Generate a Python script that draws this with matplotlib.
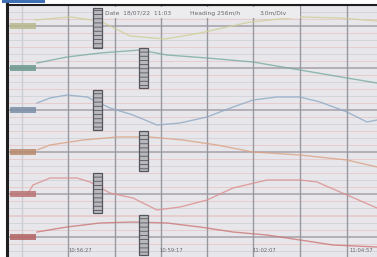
import matplotlib
matplotlib.use("Agg")
import matplotlib.pyplot as plt
from matplotlib.patches import Rectangle

plt.rcParams["hatch.color"] = "#6c6c74"
plt.rcParams["hatch.linewidth"] = 0.6

# posiciones de la rejilla (eje horizontal = tiempo, en px de pantalla)
grid_x = [22, 68, 115, 161, 207, 253, 300, 347]
baselines = [26, 68, 110, 152, 194, 237]
canal_colores = ["#cfcf98", "#79aba2", "#8eaac4", "#dba283", "#dc8f8f", "#cc7676"]
caja_colores = ["#b9b98e", "#6e9a90", "#7b8ea6", "#b88a6c", "#bb7474", "#b46464"]

# trazas
x_amarillo = [35, 70, 100, 130, 165, 200, 250, 300, 340, 377]
y_amarillo = [20, 17, 21, 36, 39, 33, 22, 17, 18, 21]

x_verde = [37, 67, 100, 140, 167, 207, 253, 300, 347, 377]
y_verde = [63, 57, 53, 50, 55, 58, 62, 70, 78, 83]

x_azul = [37, 50, 67, 87, 110, 133, 157, 180, 207, 233, 253, 277, 300, 320, 347, 367, 377]
y_azul = [103, 98, 95, 97, 108, 115, 125, 123, 117, 107, 100, 97, 97, 102, 112, 122, 120]

x_naranja = [37, 50, 83, 117, 150, 183, 217, 253, 300, 347, 377]
y_naranja = [150, 145, 140, 137, 137, 140, 145, 152, 155, 160, 167]

x_rojo = [27, 33, 50, 77, 90, 110, 133, 157, 180, 207, 233, 267, 300, 317, 347, 377]
y_rojo = [195, 185, 178, 178, 182, 193, 198, 210, 207, 200, 188, 180, 180, 182, 195, 208]

x_granate = [37, 67, 100, 133, 167, 200, 233, 267, 300, 333, 377]
y_granate = [232, 227, 223, 222, 223, 227, 232, 235, 240, 245, 247]

trazas = [(x_amarillo, y_amarillo), (x_verde, y_verde), (x_azul, y_azul),
          (x_naranja, y_naranja), (x_rojo, y_rojo), (x_granate, y_granate)]

# marcadores de evento (x izquierda, y arriba)
marcas_x = [93, 139, 93, 139, 93, 139]
marcas_y = [8, 48, 90, 131, 173, 215]

tick_pos = [80, 171, 264, 361]
tick_lab = ["10:56:27", "10:59:17", "11:02:07", "11:04:57"]

fig = plt.figure(figsize=(3.77, 2.57), dpi=100)
ax = fig.add_axes([0, 0, 1, 1])
ax.set_xlim(0, 377)
ax.set_ylim(257, 0)
ax.axis("off")

# fondo y marco
ax.add_patch(Rectangle((8, 5), 369, 252, facecolor="#e7e7eb", edgecolor="none", zorder=0))
ax.add_patch(Rectangle((2, 0), 43, 3, facecolor="#3f6fb5", edgecolor="none", zorder=5))
ax.plot([7, 7], [4, 257], color="#1e1e1e", lw=2.2, zorder=6)
ax.plot([7, 377], [4.5, 4.5], color="#1e1e1e", lw=1.5, zorder=6)

# rejilla menor
for b in baselines:
    for k in range(-3, 4):
        if k == 0:
            continue
        y = b + k * 7
        if 6 < y < 257:
            c = "#e6cccc" if k % 2 else "#d5d5dc"
            ax.plot([9, 377], [y, y], color=c, lw=0.7, zorder=1)
for b in baselines:
    ax.plot([9, 377], [b, b], color="#a69ea8", lw=1.1, zorder=2)
for gx in grid_x:
    ax.plot([gx, gx], [5, 257], color="#9797a0" if gx > 30 else "#cbcbd3", lw=1.0, zorder=2)

# trazas
for (xs, ys), c in zip(trazas, canal_colores):
    ax.plot(xs, ys, color=c, lw=1.0, alpha=0.8, zorder=3)

# etiquetas de canal
for b, c in zip(baselines, caja_colores):
    ax.add_patch(Rectangle((10, b - 3), 26, 6, facecolor=c, edgecolor="none", alpha=0.85, zorder=4))

# marcadores
for mx, my in zip(marcas_x, marcas_y):
    ax.add_patch(Rectangle((mx, my), 9, 40, facecolor="#b8b8bd", edgecolor="#55555d",
                           lw=0.9, hatch="----", zorder=5))

# texto superior
ax.add_patch(Rectangle((100, 7), 200, 11, facecolor="#ececef", edgecolor="none", zorder=4))
ax.text(105, 13, "Date  18/07/22  11:03", fontsize=4.3, color="#66666e", va="center", zorder=6)
ax.text(190, 13, "Heading 256m/h", fontsize=4.3, color="#66666e", va="center", zorder=6)
ax.text(260, 13, "3.0m/Div", fontsize=4.3, color="#66666e", va="center", zorder=6)

for tp, tl in zip(tick_pos, tick_lab):
    ax.text(tp, 251, tl, fontsize=3.8, color="#66666e", ha="center", va="center", zorder=6)

fig.savefig("out.png", dpi=100)
